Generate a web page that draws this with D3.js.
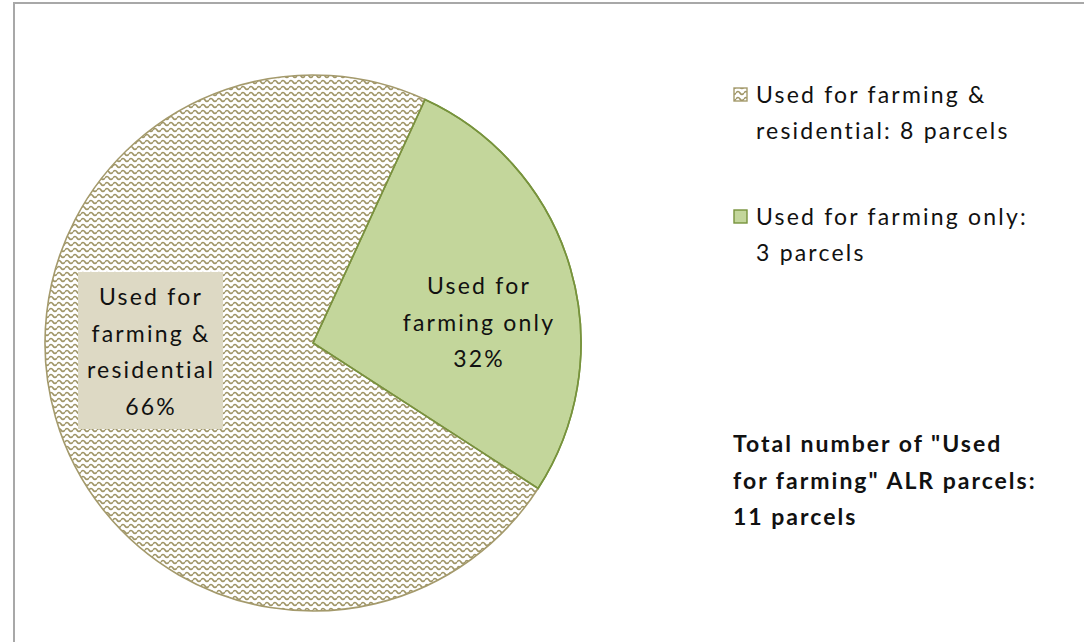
<!DOCTYPE html>
<html>
<head>
<meta charset="utf-8">
<script src="https://cdn.jsdelivr.net/npm/d3@7/dist/d3.min.js"></script>
<style>
  html, body { margin: 0; padding: 0; background: #fff; }
  svg { display: block; }
  text { font-family: Lato, "Open Sans", sans-serif; fill: #111; }
</style>
</head>
<body>
<svg id="chart" width="1084" height="642"></svg>
<script>
// Parcel counts by land use
const categories = ["Used for farming only", "Used for farming & residential"];
const parcels = [3, 8];
const percentLabels = ["32%", "66%"];
const sliceLabelLines = [["Used for", "farming only"], ["Used for", "farming &", "residential"]];
const legendLines = [["Used for farming &", "residential: 8 parcels"], ["Used for farming only:", "3 parcels"]];
const legendOrder = [1, 0];
const totalLines = ["Total number of \"Used", "for farming\" ALR parcels:", "11 parcels"];

const svg = d3.select("#chart");
const W = 1084, H = 642;

// Outer frame
svg.append("rect")
  .attr("x", 14).attr("y", 3)
  .attr("width", W + 10).attr("height", H + 10)
  .attr("fill", "#fff").attr("stroke", "#a8a8a8").attr("stroke-width", 2);

// Wavy hatch pattern for the residential slice
const defs = svg.append("defs");
const pat = defs.append("pattern")
  .attr("id", "waves")
  .attr("patternUnits", "userSpaceOnUse")
  .attr("width", 8).attr("height", 6);
pat.append("rect").attr("width", 8).attr("height", 6).attr("fill", "#fff");
pat.append("path")
  .attr("d", "M0,3 Q2,0 4,3 Q6,6 8,3")
  .attr("fill", "none").attr("stroke", "#9f9567").attr("stroke-width", 1.7);

const fills = ["#c3d69b", "url(#waves)"];
const strokes = ["#77933c", "#a49a6c"];

const cx = 313, cy = 343, r = 268;
const pie = d3.pie().sort(null).value(d => d)
  .startAngle(24.7 * Math.PI / 180)
  .endAngle(24.7 * Math.PI / 180 + 2 * Math.PI);
const arcs = pie(parcels);
const arc = d3.arc().innerRadius(0).outerRadius(r);

const g = svg.append("g").attr("transform", `translate(${cx},${cy})`);
g.selectAll("path.slice").data(arcs).join("path")
  .attr("class", "slice")
  .attr("d", arc)
  .attr("fill", (d, i) => fills[i])
  .attr("stroke", (d, i) => strokes[i])
  .attr("stroke-width", 1.6);

// Redraw the green slice's border on top so it is fully visible
g.append("path").datum(arcs[0]).attr("d", arc)
  .attr("fill", "none").attr("stroke", strokes[0]).attr("stroke-width", 1.6);

const fs = 23;
const ls = 2.2;

// Farming only label (inside green slice)
{
  const lines = sliceLabelLines[0].concat([percentLabels[0]]);
  const lx = 479, ly0 = 286;
  svg.append("g").selectAll("text").data(lines).join("text")
    .attr("x", lx).attr("y", (d, i) => ly0 + i * 36.5)
    .attr("dy", "0.35em").attr("text-anchor", "middle")
    .attr("letter-spacing", ls)
    .attr("font-size", fs).text(d => d);
}

// Residential label on a tan box
{
  const lines = sliceLabelLines[1].concat([percentLabels[1]]);
  svg.append("rect")
    .attr("x", 78).attr("y", 272).attr("width", 145).attr("height", 157)
    .attr("fill", "#ddd9c4");
  const lx = 151, ly0 = 297;
  svg.append("g").selectAll("text").data(lines).join("text")
    .attr("x", lx).attr("y", (d, i) => ly0 + i * 36.7)
    .attr("dy", "0.35em").attr("text-anchor", "middle")
    .attr("letter-spacing", ls)
    .attr("font-size", fs).text(d => d);
}

// Legend
const legendY = [95, 217];
legendOrder.forEach((idx, k) => {
  const y = legendY[k];
  svg.append("rect")
    .attr("x", 734).attr("y", y - 7).attr("width", 13).attr("height", 13)
    .attr("fill", fills[idx]).attr("stroke", strokes[idx]).attr("stroke-width", 1.4);
  svg.append("g").selectAll("text").data(legendLines[k]).join("text")
    .attr("x", 756).attr("y", (d, i) => y + i * 36)
    .attr("dy", "0.35em").attr("font-size", fs)
    .attr("letter-spacing", ls).text(d => d);
});

// Total note
svg.append("g").selectAll("text").data(totalLines).join("text")
  .attr("x", 733).attr("y", (d, i) => 444 + i * 36.5)
  .attr("dy", "0.35em").attr("font-size", fs).attr("font-weight", "bold")
  .attr("letter-spacing", 2.0)
  .text(d => d);
</script>
</body>
</html>
